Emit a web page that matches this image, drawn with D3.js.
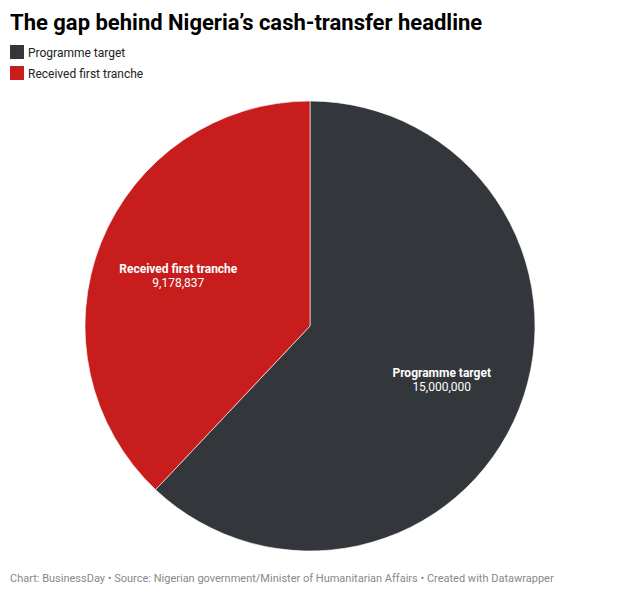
<!DOCTYPE html>
<html><head><meta charset="utf-8">
<script src="https://cdn.jsdelivr.net/npm/d3@7"></script>
<style>body{margin:0;background:#fff;font-family:Roboto,sans-serif;}</style>
</head><body>
<svg id="c" width="620" height="595"></svg>
<script>
const categories = ["Programme target", "Received first tranche"];
const values = [15000000, 9178837];
const colors = ["#33363b", "#c71e1d"];

const svg = d3.select("#c");
svg.append("text").attr("x", 10).attr("y", 30).attr("font-size", 22).attr("font-weight", 700)
  .attr("fill", "#000").text("The gap behind Nigeria’s cash-transfer headline");

const leg = svg.append("g");
categories.forEach((c, i) => {
  leg.append("rect").attr("x", 10).attr("y", 45 + i * 21).attr("width", 14).attr("height", 14).attr("fill", colors[i]);
  leg.append("text").attr("x", 28).attr("y", 57 + i * 21).attr("font-size", 12).attr("fill", "#222").text(c);
});

const cx = 310, cy = 326, R = 225;
const data = categories.map((c, i) => ({ c, v: values[i], col: colors[i] }));
const pie = d3.pie().value(d => d.v).sort(null);
const arc = d3.arc().innerRadius(0).outerRadius(R);
const labArc = d3.arc().innerRadius(R * 0.63).outerRadius(R * 0.63);
const g = svg.append("g").attr("transform", `translate(${cx},${cy})`);
const arcs = pie(data);
g.selectAll("path").data(arcs).join("path").attr("d", arc).attr("fill", d => d.data.col)
  .attr("stroke", "#fff").attr("stroke-width", 0.6);
const fmt = d3.format(",");
arcs.forEach(a => {
  const [x, y] = labArc.centroid(a);
  const t = g.append("text").attr("text-anchor", "middle").attr("fill", "#fff").attr("font-size", 12);
  t.append("tspan").attr("x", x).attr("y", y - 1).attr("font-weight", 700).text(a.data.c);
  t.append("tspan").attr("x", x).attr("y", y + 13).text(fmt(a.data.v));
});

svg.append("text").attr("x", 10).attr("y", 582).attr("font-size", 11).attr("fill", "#888")
  .text("Chart: BusinessDay • Source: Nigerian government/Minister of Humanitarian Affairs • Created with Datawrapper");
</script>
</body></html>
